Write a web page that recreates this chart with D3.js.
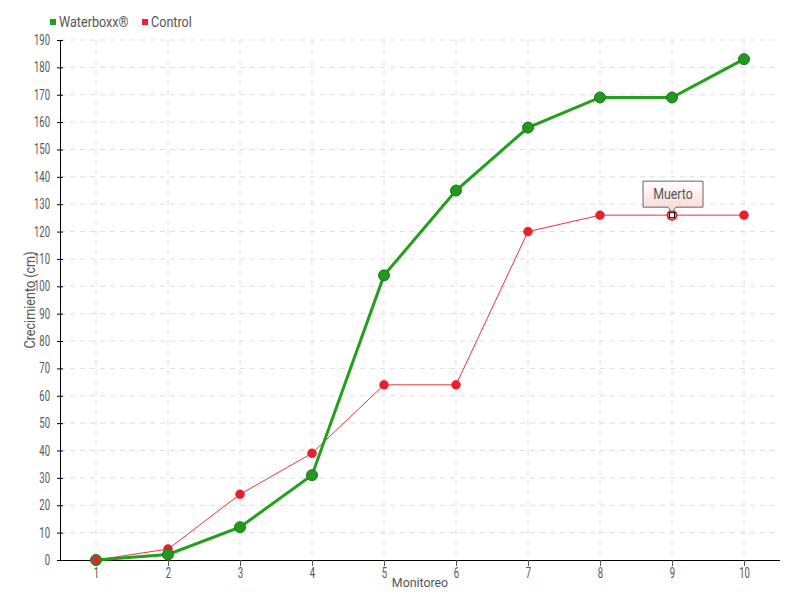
<!DOCTYPE html>
<html><head><meta charset="utf-8">
<script src="https://cdn.jsdelivr.net/npm/d3@7"></script>
<style>
body{margin:0;background:#fff;}
text{font-family:Roboto,"DejaVu Sans",sans-serif;fill:#555;}
</style></head><body>
<svg id="c" width="800" height="600"></svg>
<script>
const categories = ["1","2","3","4","5","6","7","8","9","10"];
const waterboxx = [0, 2, 12, 31, 104, 135, 158, 169, 169, 183];
const control = [0, 4, 24, 39, 64, 64, 120, 126, 126, 126];
const yTicks = d3.range(0, 200, 10);
const seriesNames = ["Waterboxx®", "Control"];
const annotationIndex = 8;
const annotationText = "Muerto";

const svg = d3.select("#c");
const L = 60, R = 780, T = 40, B = 560;
const x = d3.scalePoint().domain(categories).range([L, R]).padding(0.5);
const y = d3.scaleLinear().domain([0, 190]).range([B, T]);

function condense(sel, f) {
  sel.each(function() {
    const w = this.getComputedTextLength();
    d3.select(this).attr("textLength", w * f).attr("lengthAdjust", "spacingAndGlyphs");
  });
}

// grid
const g = svg.append("g");
g.selectAll(".hg").data(yTicks.filter(d=>d>0)).enter().append("line")
  .attr("x1", L).attr("x2", R).attr("y1", d=>y(d)).attr("y2", d=>y(d))
  .attr("stroke", "#ddd").attr("stroke-dasharray", "5,5");
g.selectAll(".vg").data(categories).enter().append("line")
  .attr("x1", d=>x(d)).attr("x2", d=>x(d)).attr("y1", T).attr("y2", B)
  .attr("stroke", "#ddd").attr("stroke-dasharray", "5,5");

// axes
const yAxis = svg.append("g").attr("transform", `translate(${L},0)`)
  .call(d3.axisLeft(y).tickValues(yTicks).tickSize(4).tickSizeOuter(0).tickPadding(6));
yAxis.select(".domain").attr("stroke", "#000");
yAxis.selectAll(".tick line").attr("x1", -3).attr("x2", 3).attr("stroke", "#000");
yAxis.selectAll("text").style("font-size", "14px").style("font-family", "Roboto").attr("fill", "#555");
condense(yAxis.selectAll("text"), 0.68);

const xAxis = svg.append("g").attr("transform", `translate(0,${B})`)
  .call(d3.axisBottom(x).tickSize(6).tickSizeOuter(0).tickPadding(2));
xAxis.select(".domain").attr("stroke", "#000").attr("d", `M${L},0.5H${R}`);
xAxis.selectAll(".tick line").attr("stroke", "#555");
xAxis.selectAll("text").style("font-size", "14px").style("font-family", "Roboto").attr("fill", "#555");
condense(xAxis.selectAll("text"), 0.68);

const xt = svg.append("text").attr("x", (L+R)/2).attr("y", 587).attr("text-anchor", "middle")
  .style("font-size", "13px").text("Monitoreo");
condense(xt, 0.95);
const yt = svg.append("text").attr("transform", `translate(35,${(T+B)/2}) rotate(-90)`)
  .attr("text-anchor", "middle").style("font-size", "14px").text("Crecimiento (cm)");
condense(yt, 0.9);

const line = d3.line().x((d,i)=>x(categories[i])).y(d=>y(d));

// control series
svg.append("path").datum(control).attr("d", line).attr("fill", "none")
  .attr("stroke", "#ee3344").attr("stroke-width", 1);
svg.selectAll(".cp").data(control).enter().append("circle")
  .attr("cx", (d,i)=>x(categories[i])).attr("cy", d=>y(d)).attr("r", 4.5)
  .attr("fill", (d,i)=> i===annotationIndex ? "#fff" : "#e8202e")
  .attr("stroke", "#e8202e")
  .attr("stroke-width", (d,i)=> i===annotationIndex ? 2 : 0.5);
svg.append("rect").attr("x", x(categories[annotationIndex]) - 2.5).attr("y", y(control[annotationIndex]) - 2.5)
  .attr("width", 5).attr("height", 5).attr("fill", "#fff").attr("stroke", "#000").attr("stroke-width", 1);

// waterboxx series
svg.append("path").datum(waterboxx).attr("d", line).attr("fill", "none")
  .attr("stroke", "#22a01a").attr("stroke-width", 3);
svg.selectAll(".wp").data(waterboxx).enter().append("circle")
  .attr("cx", (d,i)=>x(categories[i])).attr("cy", d=>y(d)).attr("r", 5.5)
  .attr("fill", "#22991e").attr("stroke", "#1b7a18").attr("stroke-width", 1);

svg.append("circle").attr("cx", x(categories[0])).attr("cy", y(control[0])).attr("r", 4)
  .attr("fill", "#e8202e");

// annotation tooltip
const ax = x(categories[annotationIndex]), ay = y(control[annotationIndex]);
const defs = svg.append("defs");
const grad = defs.append("linearGradient").attr("id", "tg").attr("x1", 0).attr("x2", 0).attr("y1", 0).attr("y2", 1);
grad.append("stop").attr("offset", "0%").attr("stop-color", "#ffffff");
grad.append("stop").attr("offset", "100%").attr("stop-color", "#fcd4d4");
const bw = 60, bh = 26, bx = ax - 29, by = ay - 34;
svg.append("path")
  .attr("d", `M${bx},${by} H${bx+bw} V${by+bh} H${ax+4} L${ax},${by+bh+5} L${ax-4},${by+bh} H${bx} Z`)
  .attr("fill", "url(#tg)").attr("stroke", "#666").attr("stroke-width", 1);
const at = svg.append("text").attr("x", bx + bw/2).attr("y", by + 18).attr("text-anchor", "middle")
  .style("font-size", "14px").attr("fill", "#444").text(annotationText);
condense(at, 0.88);

// legend
const leg = svg.append("g");
const legColors = ["#22a01a", "#ee2233"];
const legX = [50, 142];
seriesNames.forEach((n,i)=>{
  leg.append("rect").attr("x", legX[i]).attr("y", 19).attr("width", 6).attr("height", 6).attr("fill", legColors[i]);
  const t = leg.append("text").attr("x", legX[i] + 9).attr("y", 27).style("font-size", "14px").attr("fill", "#555").text(n);
  condense(t, 0.9);
});
</script></body></html>
